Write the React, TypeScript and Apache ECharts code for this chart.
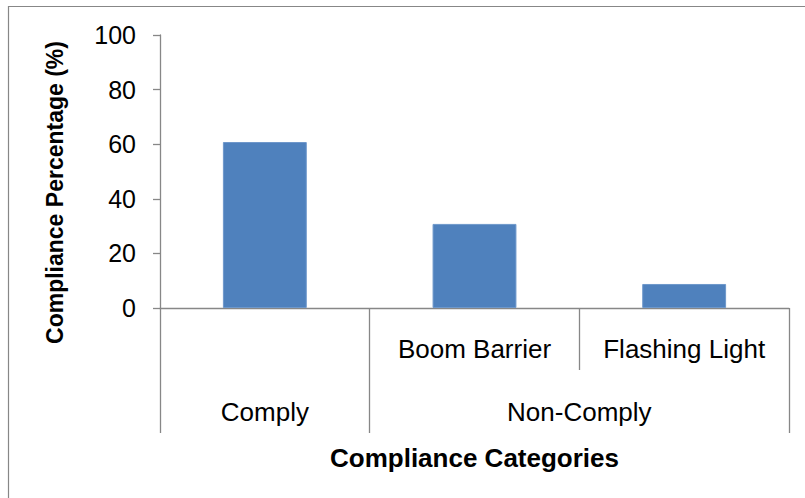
import React, { useEffect, useRef } from "react";
import * as echarts from "echarts";

// ---- data ----
const subCategories = ["", "Boom Barrier", "Flashing Light"];
const values = [60.8, 30.8, 8.8];
const groups = ["Comply", "Non-Comply"];
const groupSpans = [1, 2];
const innerDividers = [2];
const yTicks = { min: 0, max: 100, interval: 20 };
const yTitle = "Compliance Percentage (%)";
const xTitle = "Compliance Categories";

const FONT = "'Liberation Sans', Arial, sans-serif";
const GRAY = "#878787";

export default function App() {
  const ref = useRef<HTMLDivElement>(null);
  useEffect(() => {
    if (!ref.current) return;
    const chart = echarts.init(ref.current, undefined, { renderer: "svg" });
    const boundaries: number[] = [0];
    groupSpans.forEach((s) => boundaries.push(boundaries[boundaries.length - 1] + s));
    const centers = groupSpans.map((s, i) => boundaries[i] + s / 2);
    const total = boundaries[boundaries.length - 1];
    chart.setOption({
      animation: false,
      backgroundColor: "#ffffff",
      grid: { left: 160, right: 16, top: 35, bottom: 190, containLabel: false },
      graphic: [
        {
          type: "rect",
          shape: { x: 8.5, y: 6.5, width: 1000, height: 700 },
          style: { fill: "none", stroke: GRAY, lineWidth: 1.2 },
          silent: true,
        },
      ],
      xAxis: [
        {
          type: "category",
          data: subCategories,
          position: "bottom",
          axisLine: { show: true, lineStyle: { color: GRAY, width: 1.3 } },
          axisTick: { show: false },
          axisLabel: { color: "#000", fontFamily: FONT, fontSize: 26, margin: 28, interval: 0 },
          splitLine: { show: false },
        },
        {
          type: "value",
          min: 0,
          max: total,
          position: "bottom",
          axisLine: { show: false },
          axisTick: { show: true, customValues: innerDividers, length: 62, lineStyle: { color: GRAY, width: 1.3 } },
          axisLabel: { show: false },
          splitLine: { show: false },
        },
        {
          type: "value",
          min: 0,
          max: total,
          position: "bottom",
          axisLine: { show: false },
          axisTick: { show: true, customValues: boundaries, length: 125, lineStyle: { color: GRAY, width: 1.3 } },
          axisLabel: {
            show: true,
            customValues: centers,
            formatter: (v: number) => {
              const i = centers.findIndex((c) => Math.abs(c - v) < 1e-6);
              return i >= 0 ? groups[i] : "";
            },
            color: "#000",
            fontFamily: FONT,
            fontSize: 26,
            margin: 91,
          },
          splitLine: { show: false },
          name: xTitle,
          nameLocation: "middle",
          nameGap: 137,
          nameTextStyle: { color: "#000", fontFamily: FONT, fontSize: 26, fontWeight: "bold" },
        },
      ],
      yAxis: {
        type: "value",
        min: yTicks.min,
        max: yTicks.max,
        interval: yTicks.interval,
        axisLine: { show: true, lineStyle: { color: GRAY, width: 1.3 } },
        axisTick: { show: true, length: 7, lineStyle: { color: GRAY, width: 1.3 } },
        axisLabel: { color: "#000", fontFamily: FONT, fontSize: 25, margin: 24 },
        splitLine: { show: false },
        name: yTitle,
        nameLocation: "middle",
        nameGap: 94,
        nameTextStyle: {
          color: "#000",
          fontFamily: FONT,
          fontSize: 23,
          fontWeight: "bold",
          padding: [0, 42, 0, 0],
        },
      },
      series: [
        {
          type: "bar",
          xAxisIndex: 0,
          data: values,
          barWidth: "40%",
          itemStyle: { color: "#4F81BD", borderColor: "#6E98CB", borderWidth: 1 },
        },
      ],
    });
    return () => chart.dispose();
  }, []);
  return (
    <div
      ref={ref}
      style={{ position: "fixed", left: 0, top: 0, width: 805, height: 498, background: "#fff" }}
    />
  );
}
